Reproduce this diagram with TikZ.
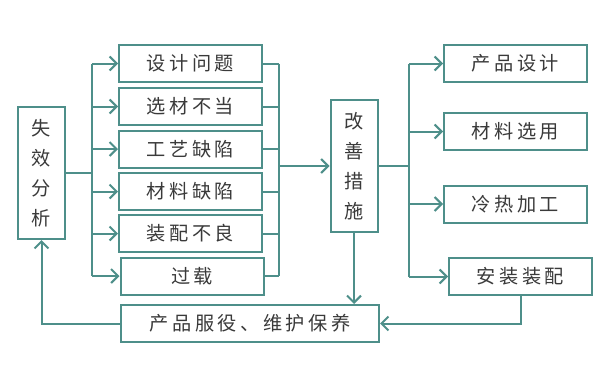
\documentclass[tikz,border=0pt]{standalone}
\usepackage{fontspec}
\usetikzlibrary{arrows.meta,positioning,calc}
\usepackage{xcolor}
\newfontfamily\cjk[LetterSpace=18]{Noto Sans CJK SC}
\definecolor{Edge}{HTML}{4E8F8A}
\definecolor{Ink}{HTML}{3A3A3A}

\tikzset{
  box/.style={draw=Edge,line width=1pt,fill=white,inner sep=0pt,
    text=Ink,font=\cjk\fontsize{9.6}{15}\selectfont},
  tallbox/.style={box,minimum width=23.5pt,minimum height=66pt,align=center},
  widebox/.style={box,minimum width=71.5pt,minimum height=18.5pt},
  link/.style={draw=Edge,line width=1pt},
  arrow/.style={link,-{Straight Barb[length=3.5pt,width=7pt,line width=1pt]}}
}

\begin{document}
\begin{tikzpicture}[x=0.5pt,y=-0.5pt]
\useasboundingbox (0,0) rectangle (605,375);
% left column
\node[tallbox] (fail) at (41.5,173) {失\\效\\分\\析};
\node[widebox] (c1) at (190.5,63.5) {设计问题};
\node[widebox] (c2) at (190.5,106.5) {选材不当};
\node[widebox] (c3) at (190.5,149) {工艺缺陷};
\node[widebox] (c4) at (190.5,191.5) {材料缺陷};
\node[widebox] (c5) at (190.5,233.5) {装配不良};
\node[widebox] (c6) at (192,276) {过载};
% middle
\node[tallbox] (fix) at (354,166) {改\\善\\措\\施};
% right column
\node[widebox] (m1) at (515.5,63.5) {产品设计};
\node[widebox] (m2) at (515.5,131.5) {材料选用};
\node[widebox] (m3) at (515.5,204) {冷热加工};
\node[widebox] (m4) at (520.5,276.5) {安装装配};
% bottom
\node[box,minimum width=129pt,minimum height=18.5pt] (serv) at (250,323.5) {产品服役、维护保养};

\coordinate (lt) at (92,0);
\coordinate (rt) at (279,0);
\coordinate (ft) at (409,0);

% causes
\draw[link] (fail.east) -- (lt |- fail.east);
\draw[link] (lt |- c1.west) -- (lt |- c6.west);
\foreach \c in {c1,c2,c3,c4,c5,c6}
  \draw[arrow] (lt |- \c.west) -- (\c.west);
\foreach \c in {c1,c2,c3,c4,c5,c6}
  \draw[link] (\c.east) -- (rt |- \c.east);
\draw[link] (rt |- c1.east) -- (rt |- c6.east);
\draw[arrow] (rt |- fix.west) -- (fix.west);

% measures
\draw[link] (fix.east) -- (ft |- fix.east);
\draw[link] (ft |- m1.west) -- (ft |- m4.west);
\foreach \m in {m1,m2,m3,m4}
  \draw[arrow] (ft |- \m.west) -- (\m.west);

% feedback loop
\draw[arrow] (fix.south) -- (fix.south |- serv.north);
\draw[arrow] (m4.south) |- (serv.east);
\draw[arrow] (serv.west) -| (fail.south);
\end{tikzpicture}
\end{document}
